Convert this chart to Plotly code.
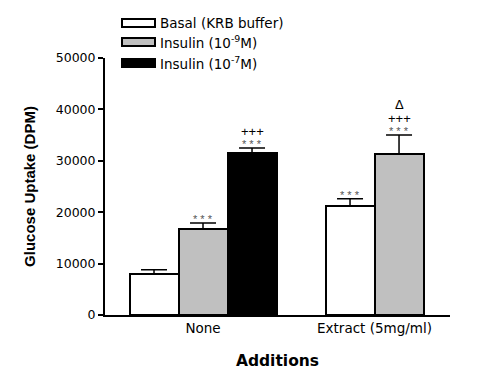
import plotly.graph_objects as go

groups = ["None", "Extract (5mg/ml)"]
series_names = ["Basal (KRB buffer)", "Insulin (10<sup>-9</sup>M)", "Insulin (10<sup>-7</sup>M)"]
series_colors = ["white", "#c0c0c0", "black"]
# values per series for each group (None = missing)
basal = [8000, 21200]
ins9 = [16700, 31300]
ins7 = [31500, None]
basal_err = [800, 1400]
ins9_err = [1200, 3700]
ins7_err = [1000, None]
# significance labels, bottom to top
basal_sig = [[], ["* * *"]]
ins9_sig = [["* * *"], ["* * *", "+++", "Δ"]]
ins7_sig = [["* * *", "+++"], []]

values = [basal, ins9, ins7]
errors = [basal_err, ins9_err, ins7_err]
sigs = [basal_sig, ins9_sig, ins7_sig]

group_centers = [2.0, 5.5]
n_in_group = [3, 2]

ARIAL = "Liberation Sans"
WIDE = "DejaVu Sans"
fig = go.Figure()
for s in range(3):
    xs, ys, es, gs = [], [], [], []
    for g in range(2):
        if values[s][g] is None:
            continue
        n = n_in_group[g]
        xs.append(group_centers[g] + (s - (n - 1) / 2))
        ys.append(values[s][g])
        es.append(errors[s][g])
        gs.append(g)
    fig.add_trace(go.Bar(
        x=xs, y=ys, width=1.0,
        marker=dict(color=series_colors[s], line=dict(color="black", width=2)),
        error_y=dict(type="data", array=es, arrayminus=[0] * len(es), symmetric=False,
                     color="black", thickness=1.5, width=13),
        name=series_names[s], showlegend=False,
    ))
    for x, y, e, g in zip(xs, ys, es, gs):
        shifts = [-4, 7, 21]
        for k, txt in enumerate(sigs[s][g]):
            fig.add_annotation(x=x, y=y + e, text=txt, showarrow=False,
                               yanchor="bottom", yshift=shifts[k],
                               font=dict(family=ARIAL, size=11 if k == 0 else 13,
                                         color="#555" if k == 0 else "black"))

# custom legend (positions relative to plot area)
leg_y = [23, 42, 63]
for s in range(3):
    fig.add_shape(type="rect", xref="paper", yref="paper",
                  x0=(122 - 105) / 345, x1=(155 - 105) / 345,
                  y0=(315 - leg_y[s] + 4) / 257, y1=(315 - leg_y[s] - 4) / 257,
                  fillcolor=series_colors[s], line=dict(color="black", width=2))
    fig.add_annotation(xref="paper", yref="paper", x=(158 - 105) / 345,
                       y=(315 - leg_y[s]) / 257, xanchor="left", yanchor="middle",
                       text=series_names[s], showarrow=False,
                       font=dict(family=WIDE, size=13.5, color="black"))

fig.update_layout(
    width=484, height=370,
    margin=dict(l=97, r=42, t=50, b=63),
    paper_bgcolor="white", plot_bgcolor="white",
    font=dict(family=WIDE, color="black"),
    bargap=0,
    xaxis=dict(range=[0, 7.04], tickvals=group_centers, ticktext=groups,
               showline=True, linecolor="black", linewidth=2, ticks="",
               showgrid=False, zeroline=False, automargin=False,
               tickfont=dict(size=13.5, family=WIDE),
               title=dict(text="<b>Additions</b>", font=dict(size=15.5, family=WIDE), standoff=20)),
    yaxis=dict(range=[0, 50000], tickvals=[0, 10000, 20000, 30000, 40000, 50000],
               ticktext=["0", "10000", "20000", "30000", "40000", "50000"],
               showline=True, linecolor="black", linewidth=2, ticks="outside",
               ticklen=5, tickwidth=2, tickcolor="black",
               showgrid=False, zeroline=False, automargin=False,
               tickfont=dict(size=12.5, family=WIDE),
               title=dict(text="<b>Glucose Uptake (DPM)</b>", font=dict(size=15, family=ARIAL), standoff=16)),
)

fig.write_html("out.html")
